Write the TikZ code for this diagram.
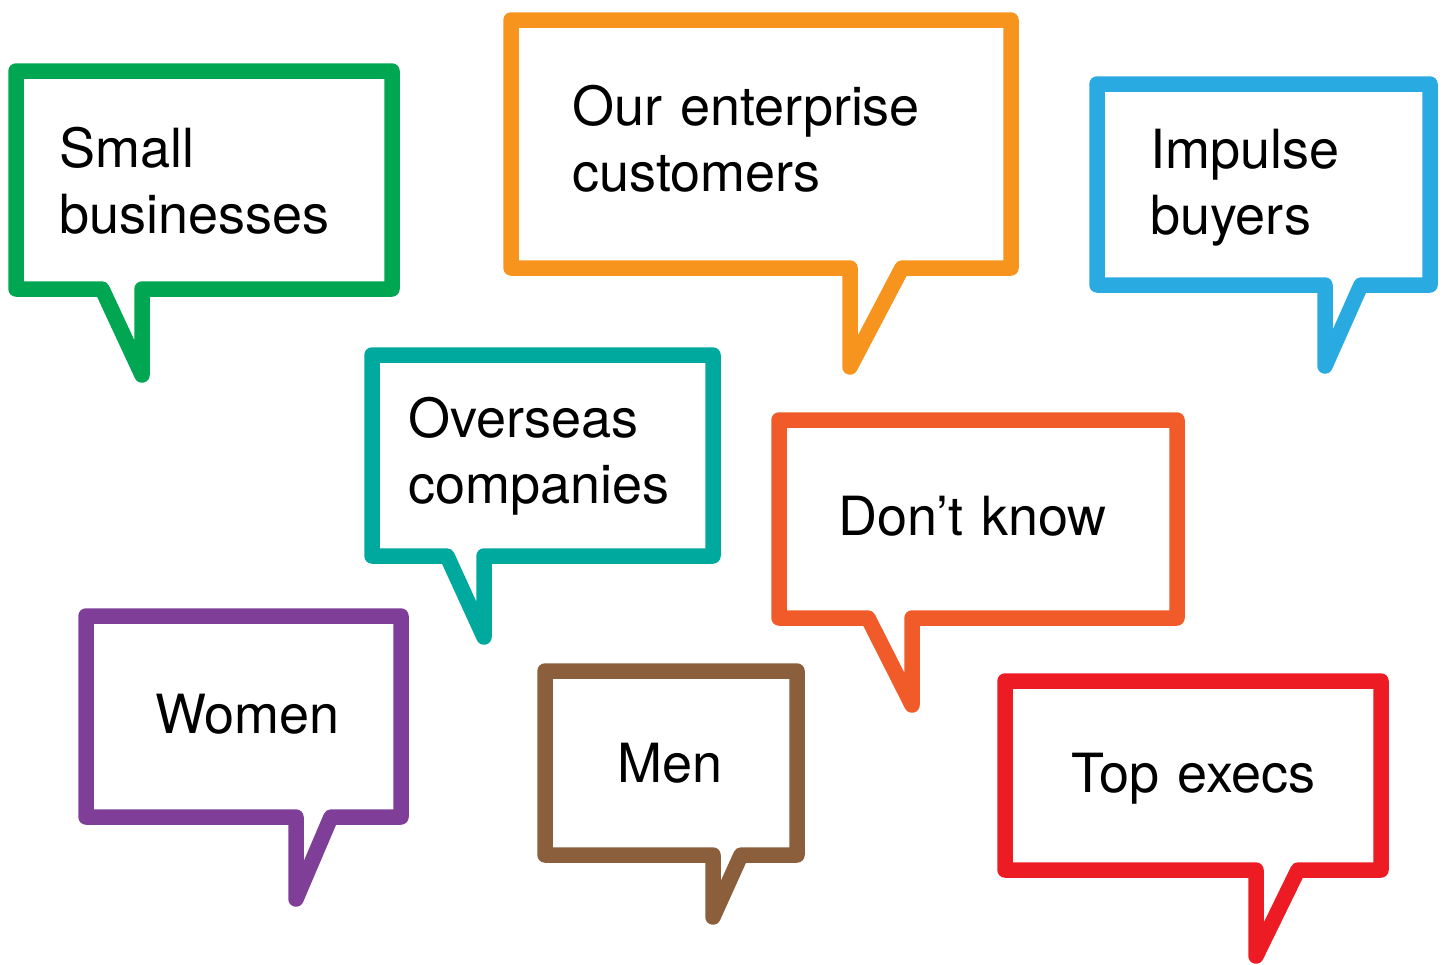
\documentclass[tikz,border=0pt]{standalone}
\usepackage{fontspec}
\setmainfont{TeX Gyre Heros}
\definecolor{cgreen}{HTML}{00A651}
\definecolor{corange}{HTML}{F7941D}
\definecolor{cblue}{HTML}{29ABE2}
\definecolor{cteal}{HTML}{00A99D}
\definecolor{cvermilion}{HTML}{F15A29}
\definecolor{cpurple}{HTML}{7F3F98}
\definecolor{cbrown}{HTML}{8B5E3C}
\definecolor{cred}{HTML}{ED1C24}
\tikzset{
  bubble/.style={draw=#1, line width=15.5pt, line join=round, line cap=round, fill=white},
  label/.style={anchor=base west, inner sep=0pt, text width=420pt, align=left,
    font=\fontsize{54}{66}\selectfont}
}
\begin{document}
\begin{tikzpicture}[x=1pt, y=-1pt]
\path[use as bounding box] (0,0) rectangle (1443,964);

% speech bubbles: box outline with a pointed tail
\draw[bubble=cgreen] (16,71) -- (392,71) -- (392,289) -- (142,289) -- (142,375) -- (102,289) -- (16,289) -- cycle;
\draw[bubble=corange] (511,20) -- (1011,20) -- (1011,268) -- (902,268) -- (850,367) -- (850,268) -- (511,268) -- cycle;
\draw[bubble=cblue] (1097,84) -- (1430,84) -- (1430,285) -- (1361,285) -- (1325,366) -- (1325,285) -- (1097,285) -- cycle;
\draw[bubble=cteal] (372,355) -- (713,355) -- (713,556) -- (484,556) -- (484,637) -- (447,556) -- (372,556) -- cycle;
\draw[bubble=cvermilion] (779,420) -- (1177,420) -- (1177,618) -- (912,618) -- (912,705) -- (868,618) -- (779,618) -- cycle;
\draw[bubble=cpurple] (86,616) -- (401,616) -- (401,817) -- (331,817) -- (296,899) -- (296,817) -- (86,817) -- cycle;
\draw[bubble=cbrown] (545,671) -- (797,671) -- (797,855) -- (741,855) -- (713,917) -- (713,855) -- (545,855) -- cycle;
\draw[bubble=cred] (1005,681) -- (1381,681) -- (1381,870) -- (1298,870) -- (1256,956) -- (1256,870) -- (1005,870) -- cycle;

% bubble texts
\node[label] (small) at (59,167) {Small\\businesses};
\node[label] (enterprise) at (572,125) {Our enterprise\\customers};
\node[label] (impulse) at (1150,168) {Impulse\\buyers};
\node[label] (overseas) at (408,437) {Overseas\\companies};
\node[label] (dontknow) at (838,535) {Don’t know};
\node[label] (women) at (155,733) {Women};
\node[label] (men) at (617,782) {Men};
\node[label] (execs) at (1071,792) {Top execs};
\end{tikzpicture}
\end{document}
